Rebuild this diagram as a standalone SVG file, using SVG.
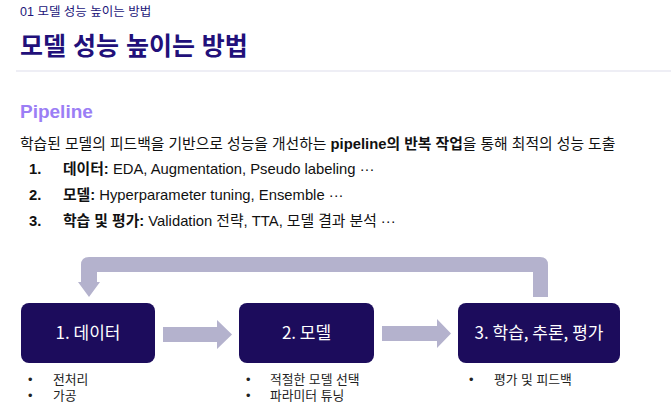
<svg xmlns="http://www.w3.org/2000/svg" width="671" height="415" viewBox="0 0 671 415">
<style>
text{font-family:"Liberation Sans","Noto Sans CJK KR",sans-serif}
.hdr{font-size:12.5px;fill:#22157a}
.ttl{font-size:25px;font-weight:bold;fill:#22107a}
.sub{font-size:19px;font-weight:bold;fill:#9b7ef5}
.body{font-size:14.8px;fill:#111}
.lst{font-size:14.8px;fill:#111}
.b{font-weight:bold}
.box{fill:#1c0c5c}
.boxt{font-family:"Noto Sans CJK KR","Liberation Sans",sans-serif;font-size:17px;fill:#fff;text-anchor:middle}
.bul{font-family:"Liberation Sans","Noto Sans CJK KR",sans-serif;font-size:12.8px;fill:#222}
.arr{fill:#b4b2cd}
</style>
<rect width="671" height="415" fill="#fff"/>
<g id="header">
<text class="hdr" x="20" y="16">01 모델 성능 높이는 방법</text>
<text class="ttl" x="20" y="55">모델 성능 높이는 방법</text>
<rect x="16" y="70" width="655" height="2" fill="#eeeef5"/>
</g>
<g id="intro">
<text class="sub" x="20" y="118">Pipeline</text>
<text class="body" x="20" y="149">학습된 모델의 피드백을 기반으로 성능을 개선하는 <tspan class="b">pipeline의 반복 작업</tspan>을 통해 최적의 성능 도출</text>
<text class="lst" x="29" y="174"><tspan class="b">1.</tspan><tspan x="63" class="b">데이터:</tspan> EDA, Augmentation, Pseudo labeling ···</text>
<text class="lst" x="29" y="200"><tspan class="b">2.</tspan><tspan x="63" class="b">모델:</tspan> Hyperparameter tuning, Ensemble ···</text>
<text class="lst" x="29" y="226"><tspan class="b">3.</tspan><tspan x="63" class="b">학습 및 평가:</tspan> Validation 전략, TTA, 모델 결과 분석 ···</text>
</g>
<g id="connectors">
<path class="arr" d="M163 327 H217 V320 L232 334.5 L217 349 V342 H163 Z"/>
<path class="arr" d="M382 326 H437 V319 L451 333.5 L437 348 V341 H382 Z"/>
<path class="arr" d="M81 282 V265 Q81 257 89 257 H540 Q548 257 548 265 V297 H533 V272 H97 V282 H100 L89 297 L78 282 Z"/>
</g>
<g id="node1">
<rect class="box" x="21" y="303" width="134" height="60" rx="8"/>
<text class="boxt" x="88" y="339">1. 데이터</text>
<text class="bul" x="28" y="384">•</text><text class="bul" x="53" y="384">전처리</text>
<text class="bul" x="28" y="400">•</text><text class="bul" x="53" y="400">가공</text>
</g>
<g id="node2">
<rect class="box" x="239" y="303" width="135" height="60" rx="8"/>
<text class="boxt" x="306.5" y="339">2. 모델</text>
<text class="bul" x="246" y="384">•</text><text class="bul" x="270" y="384">적절한 모델 선택</text>
<text class="bul" x="246" y="400">•</text><text class="bul" x="270" y="400">파라미터 튜닝</text>
</g>
<g id="node3">
<rect class="box" x="458" y="303" width="162" height="60" rx="8"/>
<text class="boxt" x="539" y="339">3. 학습, 추론, 평가</text>
<text class="bul" x="469" y="384">•</text><text class="bul" x="494" y="384">평가 및 피드백</text>
</g>
</svg>
